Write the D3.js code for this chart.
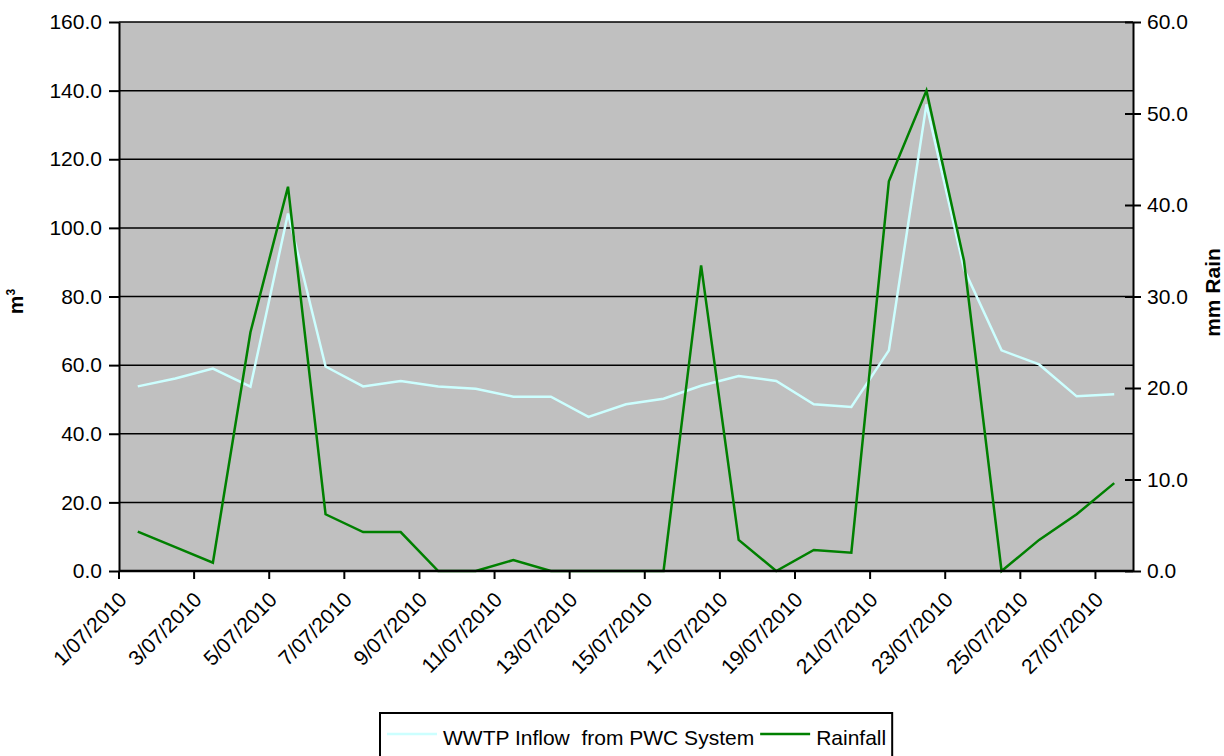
<!DOCTYPE html>
<html>
<head>
<meta charset="utf-8">
<script src="https://cdn.jsdelivr.net/npm/d3@7"></script>
<style>
  body { margin: 0; background: #fff; }
  svg, svg text { font-family: "Liberation Sans", Arial, sans-serif; }
</style>
</head>
<body>
<svg id="chart" width="1224" height="756"></svg>
<script>
// data
const dates = d3.range(1, 28).map(d => d + '/07/2010');
const inflow = [53.8, 56.1, 59.0, 53.7, 104.2, 59.6, 53.8, 55.4, 53.8, 53.1, 50.8, 50.8, 44.9, 48.6,
    50.2, 54.0, 56.8, 55.4, 48.6, 47.8, 64.3, 136.0, 88.0, 64.3, 60.2, 50.9, 51.5];
const rainfall = [4.3, 2.6, 0.9, 26.1, 42.0, 6.2, 4.25, 4.25, 0, 0, 1.2, 0, 0, 0,
    0, 33.4, 3.4, 0, 2.3, 2.0, 42.6, 52.5, 33.9, 0, 3.4, 6.2, 9.6];
const leftTicks = d3.range(0, 161, 20);
const rightTicks = d3.range(0, 61, 10);
const seriesNames = ['WWTP Inflow  from PWC System', 'Rainfall'];
const seriesColors = ['#ccffff', '#008000'];

const FS = 21;
const margin = { top: 22, right: 91, bottom: 185, left: 119 };
const svg = d3.select('#chart');
const W = +svg.attr('width'), H = +svg.attr('height');
const w = W - margin.left - margin.right;
const h = H - margin.top - margin.bottom;

const x = d3.scaleBand().domain(dates).range([0, w]);
const yL = d3.scaleLinear().domain([0, 160]).range([h, 0]);
const yR = d3.scaleLinear().domain([0, 60]).range([h, 0]);

const g = svg.append('g').attr('transform', `translate(${margin.left},${margin.top})`);

// plot background
g.append('rect').attr('width', w).attr('height', h).attr('fill', '#c0c0c0');

// gridlines
g.append('g').selectAll('line').data(leftTicks.slice(1)).join('line')
    .attr('x1', 0).attr('x2', w)
    .attr('y1', d => yL(d)).attr('y2', d => yL(d))
    .attr('stroke', '#000').attr('stroke-width', 1.5);

// lines
const mkLine = (y, vals) => d3.line().x((d, i) => x(dates[i]) + x.bandwidth() / 2).y(d => y(d))(vals);
g.append('path').attr('d', mkLine(yL, inflow))
    .attr('fill', 'none').attr('stroke', seriesColors[0]).attr('stroke-width', 2.5);
g.append('path').attr('d', mkLine(yR, rainfall))
    .attr('fill', 'none').attr('stroke', seriesColors[1]).attr('stroke-width', 2.5);

// left axis
const axL = g.append('g').call(d3.axisLeft(yL).tickValues(leftTicks).tickFormat(d3.format('.1f')).tickSize(10).tickSizeOuter(0));
axL.attr('font-family', null).attr('font-size', null);
axL.select('.domain').attr('stroke-width', 2);
axL.selectAll('.tick line').attr('stroke-width', 2);
axL.selectAll('.tick text').attr('font-size', FS).attr('fill', '#000').attr('x', -17);

// right axis (ticks cross the line)
const axR = g.append('g').attr('transform', `translate(${w},0)`)
    .call(d3.axisRight(yR).tickValues(rightTicks).tickFormat(d3.format('.1f')).tickSize(8).tickSizeOuter(0));
axR.attr('font-family', null).attr('font-size', null);
axR.select('.domain').attr('stroke-width', 2);
axR.selectAll('.tick line').attr('x1', -8).attr('stroke-width', 2);
axR.selectAll('.tick text').attr('font-size', FS).attr('fill', '#000').attr('x', 14);

// bottom axis: ticks every 2 categories at band edges
const tickIdx = d3.range(0, dates.length + 1, 2);
const bx = i => i < dates.length ? x(dates[i]) : w;
const axB = g.append('g').attr('transform', `translate(0,${h})`);
axB.append('line').attr('x1', 0).attr('x2', w).attr('stroke', '#000').attr('stroke-width', 2.5);
axB.selectAll('line.tk').data(tickIdx).join('line').attr('class', 'tk')
    .attr('x1', bx).attr('x2', bx).attr('y1', 0).attr('y2', 8)
    .attr('stroke', '#000').attr('stroke-width', 2);
axB.selectAll('text').data(tickIdx.filter(i => i < dates.length)).join('text')
    .attr('transform', i => `translate(${bx(i) + 9},${30}) rotate(-45)`)
    .attr('text-anchor', 'end').attr('font-size', FS).attr('fill', '#000')
    .text(i => dates[i]);

// axis titles
svg.append('text').attr('transform', `translate(23,${margin.top + h / 2 + 5}) rotate(-90)`)
    .attr('text-anchor', 'middle').attr('font-size', FS).attr('font-weight', 'bold')
    .html('m<tspan dy="-8" font-size="12">3</tspan>');
svg.append('text').attr('transform', `translate(1220,${margin.top + h / 2 - 4}) rotate(-90)`)
    .attr('text-anchor', 'middle').attr('font-size', FS).attr('font-weight', 'bold')
    .text('mm Rain');

// legend
const lg = svg.append('g').attr('transform', 'translate(380,713)');
const box = lg.append('rect').attr('height', 60)
    .attr('fill', '#fff').attr('stroke', '#000').attr('stroke-width', 2);
let lx = 7;
seriesNames.forEach((name, i) => {
    lg.append('line').attr('x1', lx).attr('x2', lx + 50).attr('y1', 21).attr('y2', 21)
        .attr('stroke', seriesColors[i]).attr('stroke-width', 2.5);
    const t = lg.append('text').attr('x', lx + 56).attr('y', 32).attr('font-size', FS)
        .style('white-space', 'pre').text(name);
    lx += 56 + t.node().getComputedTextLength() + 6;
});
box.attr('width', lx);
</script>
</body>
</html>
